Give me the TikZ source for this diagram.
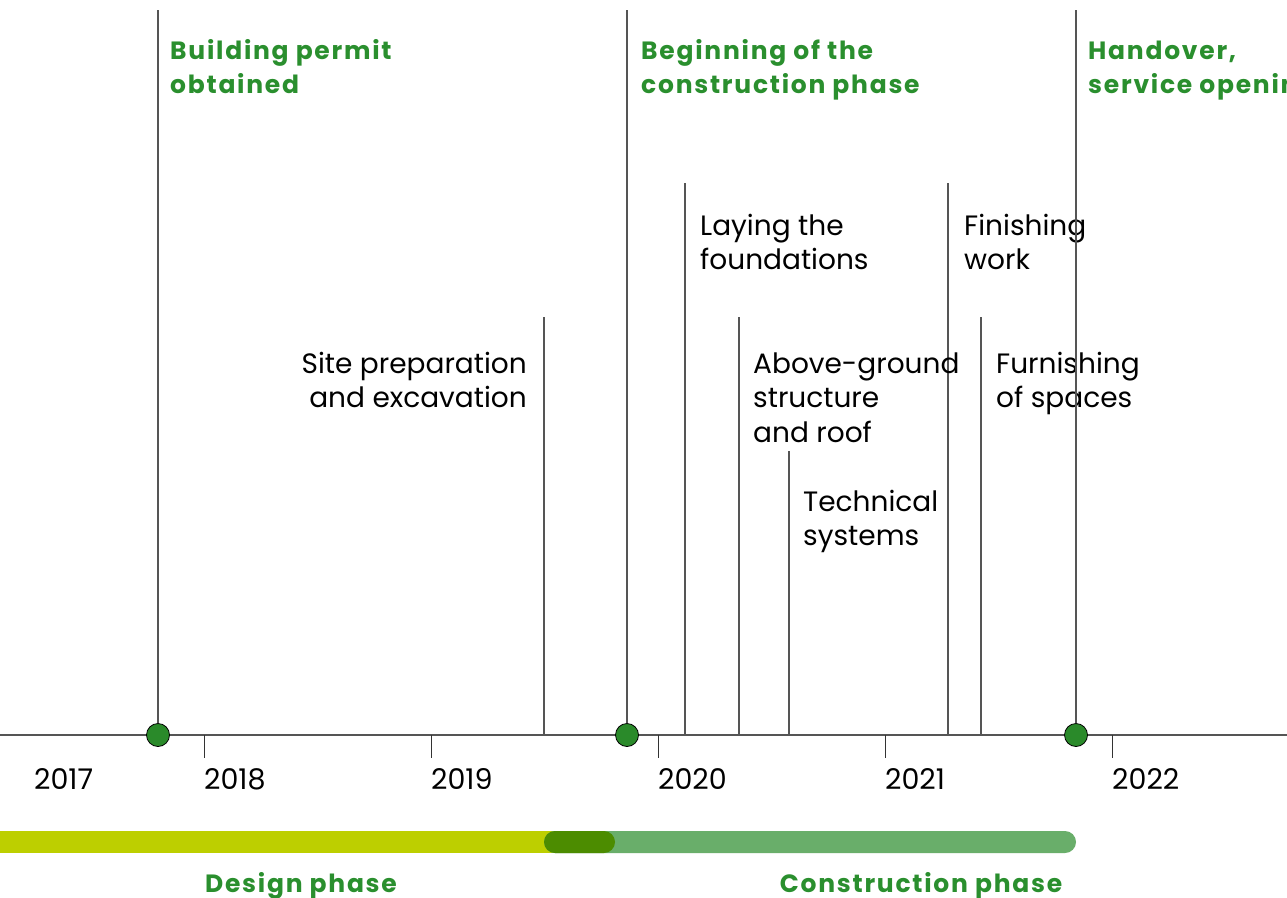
\documentclass[tikz,border=0pt]{standalone}
\usepackage{fontspec}
\setmainfont{Poppins}
\definecolor{linegray}{HTML}{555555}
\definecolor{titlegreen}{HTML}{2A8F2E}
\definecolor{dotgreen}{HTML}{2A8A2A}
\definecolor{designbar}{HTML}{BDCF00}
\definecolor{constbar}{HTML}{69AE6A}
\definecolor{overlapbar}{HTML}{4C8C00}
\tikzset{
  vline/.style={draw=linegray, line width=1.1pt},
  tickline/.style={draw=black!80, line width=1pt},
  evt/.style={font=\fontsize{28}{34.5}\selectfont, align=left, inner sep=0pt, anchor=base west},
  evtr/.style={font=\fontsize{28}{34.5}\selectfont, align=right, inner sep=0pt, anchor=base east},
  ttl/.style={font=\bfseries\fontsize{25}{34}\selectfont\addfontfeature{LetterSpace=7}, text=titlegreen, align=left, inner sep=0pt, anchor=base west},
  phase/.style={font=\bfseries\fontsize{25}{34}\selectfont\addfontfeature{LetterSpace=7}, text=titlegreen, inner sep=0pt, anchor=base},
  year/.style={font=\fontsize{28.5}{30}\selectfont, inner sep=0pt, anchor=base west},
  dot/.style={circle, draw=black, line width=0.8pt, fill=dotgreen, minimum size=23pt, inner sep=0pt},
}
\begin{document}
\begin{tikzpicture}[x=1pt,y=-1pt]
\useasboundingbox (0,0) rectangle (1287,897);
\clip (0,0) rectangle (1287,897);
\fill[white] (0,0) rectangle (1287,897);
% axis
\coordinate (axL) at (0,735);
\coordinate (axR) at (1287,735);
\draw[vline] (axL) -- (axR);
% ticks and years
\foreach \x/\n in {204/a,431/b,658/c,885/d,1112/e}{
  \coordinate (t\n) at (\x,735);
  \coordinate (tb\n) at (\x,758);
  \draw[tickline] (t\n) -- (tb\n);
}
\node[year] (y17) at (34,789) {2017};
\node[year] (y18) at (204,789) {2018};
\node[year] (y19) at (431,789) {2019};
\node[year] (y20) at (658,789) {2020};
\node[year] (y21) at (885,789) {2021};
\node[year] (y22) at (1112,789) {2022};
% event lines
\foreach \x/\t/\n in {544/317/sp,685/183/lf,739/317/ag,789/451/ts,948/183/fw,981/317/fs}{
  \coordinate (e\n top) at (\x,\t);
  \coordinate (e\n bot) at (\x,735);
  \draw[vline] (e\n top) -- (e\n bot);
}
% (base anchor of a multi-line node = baseline of its last line)
\node[evtr] (sp) at (527,407.5) {Site preparation\\and excavation};
\node[evt] (lf) at (700,269.5) {Laying the\\foundations};
\node[evt] (ag) at (753,442) {Above-ground\\structure\\and roof};
\node[evt] (ts) at (803,545.5) {Technical\\systems};
\node[evt] (fw) at (964,269.5) {Finishing\\work};
\node[evt] (fs) at (996,407.5) {Furnishing\\of spaces};
% milestones
\foreach \x/\n in {158/m1,627/m2,1076/m3}{
  \coordinate (\n top) at (\x,10);
  \node[dot] (\n) at (\x,735) {};
  \draw[vline] (\n top) -- (\n.north);
}
\node[ttl] (t1) at (170,93) {Building permit\\obtained};
\node[ttl] (t2) at (641,93) {Beginning of the\\construction phase};
\node[ttl] (t3) at (1088,93) {Handover,\\service opening};
% phase bars
\fill[designbar] (-30,831) rectangle (600,853);
\fill[constbar, rounded corners=11pt] (544,831) rectangle (1076,853);
\fill[overlapbar, rounded corners=11pt] (544,831) rectangle (615,853);
\node[phase] (dp) at (301,892) {Design phase};
\node[phase] (cp) at (921,892) {Construction phase};
\end{tikzpicture}
\end{document}
